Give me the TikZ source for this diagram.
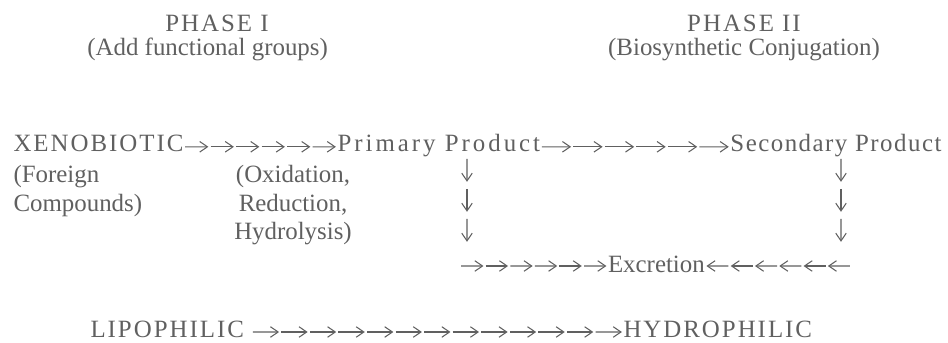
\documentclass[tikz,border=0pt]{standalone}
\usepackage{fontspec}
\setmainfont{Liberation Serif}
\usetikzlibrary{arrows.meta,calc}
\definecolor{inkgray}{RGB}{96,96,96}

\begin{document}
\begin{tikzpicture}[>={Straight Barb[length=5.5pt,width=7.5pt]}, line width=0.75pt, inkgray,
	every node/.style={inner sep=0pt, text=inkgray, font=\fontsize{17.7pt}{20.3pt}\selectfont},
	caps/.style={font=\fontsize{17.7pt}{20.3pt}\selectfont\addfontfeature{LetterSpace=8}},
	chainarrow/.style={->, shorten >=0.8pt, shorten <=0.8pt},
	droparrow/.style={->, shorten >=0.18cm}]

\useasboundingbox (0,0) rectangle (23.7,8.575);

% headings
\node (phaseI) at (5.425,7.775) [anchor=base, caps] {PHASE I};
\node (groups) at (5.19,7.175) [anchor=base] {(Add functional groups)};
\node (phaseII) at (18.6,7.775) [anchor=base, caps] {PHASE II};
\node (conj) at (18.6,7.175) [anchor=base] {(Biosynthetic Conjugation)};

% main row
\node (xeno) at (0.325,4.775) [anchor=base west, caps] {XENOBIOTIC};
\node (prim) at (8.425,4.775) [anchor=base west,
	font=\fontsize{17.7pt}{20.3pt}\selectfont\addfontfeature{LetterSpace=12}] {Primary Product};
\node (sec) at (23.55,4.775) [anchor=base east,
	font=\fontsize{17.7pt}{20.3pt}\selectfont\addfontfeature{LetterSpace=6}] {Secondary Product};

\node (foreign) at (0.325,3.29) [anchor=base west, align=left] {(Foreign\\Compounds)};
\node (redox) at (7.325,2.575) [anchor=base, align=center] {(Oxidation,\\Reduction,\\Hydrolysis)};

% excretion and bottom row
\node (excr) at (16.41,1.75) [anchor=base] {Excretion};
\node (lipo) at (2.25,0.125) [anchor=base west, caps] {LIPOPHILIC};
\node (hydro) at (15.575,0.125) [anchor=base west, caps] {HYDROPHILIC};

% chain ends
\coordinate (x1) at ($(xeno.base east)+(0,0.13)$);
\coordinate (x2) at ($(prim.base west)+(0,0.13)$);
\coordinate (p1) at ($(prim.base east)+(0,0.13)$);
\coordinate (p2) at ($(sec.base west)+(0,0.13)$);
\coordinate (e1) at (11.5,1.925);
\coordinate (e2) at ($(excr.base west)+(0,0.175)$);
\coordinate (e3) at (21.275,1.925);
\coordinate (e4) at ($(excr.base east)+(0,0.175)$);
\coordinate (l1) at ($(lipo.base east)+(0.18,0.15)$);
\coordinate (l2) at ($(hydro.base west)+(0,0.15)$);
\coordinate (pt) at (11.675,4.6);
\coordinate (pb) at (11.675,2.35);
\coordinate (st) at (21.025,4.6);
\coordinate (sb) at (21.025,2.35);

\foreach \s/\e/\n in {x1/x2/6, p1/p2/6, e1/e2/6, e3/e4/6, l1/l2/13}{
	\foreach \i in {1,...,\n}{
		\draw[chainarrow] ($(\s)!{(\i-1)/\n}!(\e)$)--($(\s)!{\i/\n}!(\e)$);
	}
}

\foreach \s/\e in {pt/pb, st/sb}{
	\foreach \i in {1,2,3}{
		\draw[droparrow] ($(\s)!{(\i-1)/3}!(\e)$)--($(\s)!{\i/3}!(\e)$);
	}
}

\end{tikzpicture}
\end{document}
